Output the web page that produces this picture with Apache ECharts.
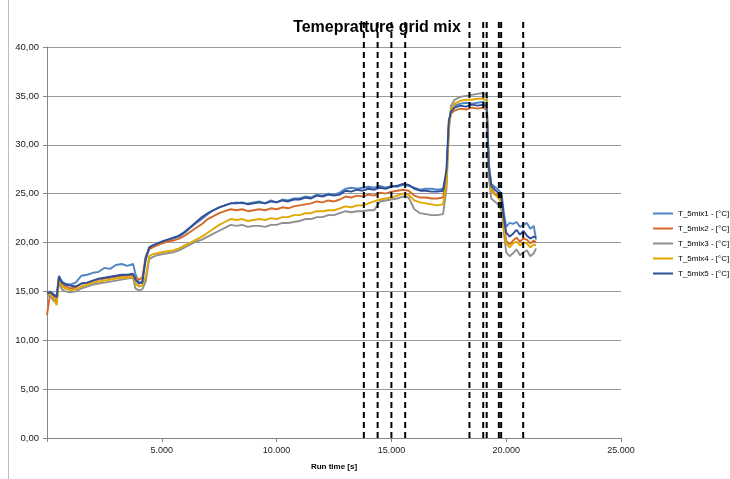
<!DOCTYPE html>
<html><head><meta charset="utf-8">
<script src="https://cdn.jsdelivr.net/npm/echarts@6/dist/echarts.min.js"></script>
<style>html,body{margin:0;padding:0;background:#fff}#c{width:730px;height:479px}</style>
</head><body><div id="c"></div>
<script>
const times = [
  0,150,300,420,520,650,800,1000,1250,1500,
  1750,2000,2250,2500,2750,3000,3250,3500,3750,3850,
  4000,4150,4300,4450,4600,4800,5000,5250,5500,5750,
  6000,6250,6500,6750,7000,7250,7500,7750,8000,8250,
  8500,8750,9000,9250,9500,9750,10000,10250,10500,10750,
  11000,11250,11500,11750,12000,12250,12500,12750,13000,13250,
  13500,13750,14000,14250,14500,14750,15000,15250,15500,15750,
  16000,16250,16500,16750,17000,17250,17400,17500,17600,17750,
  18000,18250,18500,18750,19000,19150,19250,19350,19500,19650,
  19800,19900,20000,20150,20300,20450,20600,20750,20900,21050,
  21200,21300];
const mix1 = [
  14.9,15.0,14.7,14.5,16.6,16.0,15.8,15.7,15.9,16.6,
  16.7,16.9,17.0,17.4,17.3,17.7,17.8,17.6,17.8,16.8,
  15.9,16.0,18.2,19.4,19.6,19.8,20.0,20.2,20.4,20.6,
  21.0,21.5,22.0,22.4,22.9,23.3,23.6,23.8,24.0,24.1,
  24.0,24.0,24.1,24.2,24.0,24.3,24.1,24.4,24.3,24.5,
  24.5,24.7,24.6,24.9,24.8,25.0,24.9,25.1,25.5,25.6,
  25.5,25.6,25.7,25.6,25.8,25.6,25.8,25.7,25.9,25.8,
  25.6,25.4,25.5,25.5,25.4,25.5,27.0,32.0,33.6,34.0,
  34.2,34.3,34.2,34.3,34.4,34.1,28.0,26.0,25.7,25.4,
  25.0,23.0,21.6,22.0,21.9,22.1,21.6,21.8,22.0,21.4,
  21.7,20.3];
const mix2 = [
  12.6,15.0,14.4,13.8,16.3,15.8,15.5,15.3,15.4,15.8,
  15.9,16.1,16.2,16.3,16.4,16.5,16.6,16.6,16.7,16.4,
  16.2,16.4,18.6,19.3,19.5,19.7,19.9,20.1,20.2,20.4,
  20.7,21.1,21.5,21.9,22.4,22.7,23.0,23.2,23.4,23.3,
  23.4,23.2,23.3,23.4,23.3,23.5,23.4,23.6,23.5,23.7,
  23.8,23.9,24.0,24.2,24.1,24.3,24.2,24.4,24.7,24.6,
  24.8,24.7,24.9,24.8,25.1,25.0,25.2,25.3,25.4,25.3,
  24.8,24.6,24.6,24.5,24.5,24.6,27.0,32.0,33.2,33.5,
  33.7,33.6,33.8,33.7,33.8,33.6,27.0,25.5,25.0,24.8,
  24.3,22.0,20.2,19.8,20.2,20.5,20.1,20.4,20.3,19.9,
  20.2,20.0];
const mix3 = [
  14.6,14.5,14.0,13.9,16.0,15.2,15.0,14.9,15.0,15.3,
  15.5,15.7,15.8,15.9,16.0,16.1,16.2,16.3,16.4,15.3,
  15.1,15.2,16.0,18.3,18.5,18.7,18.8,18.9,19.0,19.2,
  19.5,19.8,20.1,20.3,20.6,20.9,21.2,21.5,21.8,21.7,
  21.8,21.6,21.7,21.7,21.6,21.8,21.8,22.0,22.0,22.1,
  22.2,22.4,22.4,22.6,22.6,22.8,22.8,23.0,23.2,23.1,
  23.2,23.2,23.3,23.3,24.2,24.3,24.4,24.5,24.7,24.6,
  23.4,23.0,22.9,22.8,22.8,22.9,25.5,31.5,34.0,34.6,
  34.9,35.0,35.1,35.2,35.3,35.0,26.5,24.5,24.2,23.9,
  23.3,21.0,19.0,18.6,18.9,19.3,18.7,19.0,19.2,18.6,
  18.9,19.4];
const mix4 = [
  14.8,14.7,14.2,13.6,16.2,15.5,15.3,15.1,15.2,15.5,
  15.7,15.9,16.0,16.1,16.2,16.3,16.4,16.4,16.5,15.8,
  15.5,15.6,16.5,18.6,18.8,18.9,19.0,19.1,19.2,19.4,
  19.7,20.0,20.3,20.6,21.0,21.4,21.8,22.1,22.4,22.3,
  22.4,22.2,22.3,22.4,22.3,22.5,22.4,22.6,22.6,22.8,
  22.8,23.0,23.0,23.2,23.2,23.3,23.3,23.5,23.7,23.6,
  23.8,23.8,24.0,24.2,24.4,24.5,24.6,24.8,25.0,24.9,
  24.3,24.1,24.0,23.9,23.8,23.9,26.0,31.5,33.6,34.2,
  34.5,34.6,34.6,34.7,34.7,34.5,27.5,25.3,24.9,24.6,
  24.0,21.5,19.9,19.5,19.9,20.1,19.7,20.0,19.9,19.5,
  19.8,19.7];
const mix5 = [
  14.8,14.9,14.6,14.4,16.5,15.9,15.7,15.6,15.5,15.8,
  15.9,16.1,16.3,16.4,16.5,16.6,16.7,16.7,16.8,16.2,
  15.8,15.9,18.4,19.5,19.7,19.9,20.1,20.3,20.5,20.7,
  21.1,21.6,22.1,22.6,23.0,23.3,23.6,23.8,24.0,24.0,
  24.1,23.9,24.0,24.1,24.0,24.2,24.1,24.3,24.2,24.4,
  24.4,24.6,24.5,24.8,24.7,24.9,24.8,24.9,25.3,25.2,
  25.4,25.3,25.5,25.4,25.6,25.5,25.7,25.8,26.0,25.9,
  25.5,25.3,25.3,25.2,25.2,25.3,27.5,32.5,33.4,33.8,
  34.0,33.9,34.1,34.0,34.1,33.9,27.5,25.8,25.4,25.1,
  24.6,22.5,21.0,20.6,20.9,21.3,20.8,21.2,20.7,20.4,
  20.6,20.5];
const seriesNames = ['T_5mix1 - [°C]','T_5mix2 - [°C]','T_5mix3 - [°C]','T_5mix4 - [°C]','T_5mix5 - [°C]'];
const seriesColors = ['#4f86c2','#d4692a','#909090','#e0a800','#2f4f99'];
const markerTimes = [13800,14400,15000,15600,18400,19000,19150,19680,19780,20740];
const markerBottom = 0;
const markerTop = 42.8;

const FONT = 'Liberation Sans';
const allValues = [mix1, mix2, mix3, mix4, mix5];
const series = allValues.map((vals, i) => ({
  name: seriesNames[i], type: 'line', showSymbol: false, symbol: 'none',
  data: times.map((t, k) => [t, vals[k]]),
  lineStyle: { width: 1.9, color: seriesColors[i] },
  itemStyle: { color: seriesColors[i] },
  animation: false, z: 2 + i
}));
markerTimes.forEach(t => series.push({
  type: 'line', symbol: 'none', clip: false, silent: true, animation: false,
  data: [[t, markerBottom], [t, markerTop]],
  lineStyle: { color: '#000', width: 2, type: [6, 4] }, z: 10
}));

const chart = echarts.init(document.getElementById('c'), null, { renderer: 'canvas' });
chart.setOption({
  backgroundColor: '#fff',
  animation: false,
  title: {
    text: 'Temepratture grid mix', left: 372, top: 15, textAlign: 'center',
    textStyle: { fontFamily: FONT, fontSize: 16, fontWeight: 'bold', color: '#000' }
  },
  legend: {
    data: seriesNames, orient: 'vertical', left: 648, top: 203,
    icon: 'rect', itemWidth: 20, itemHeight: 2, itemGap: 4,
    textStyle: { fontFamily: FONT, fontSize: 8, color: '#000', lineHeight: 11 }
  },
  grid: { left: 47, right: 109, top: 47, bottom: 41 },
  xAxis: {
    type: 'value', min: 0, max: 25000, interval: 5000,
    name: 'Run time [s]', nameLocation: 'middle', nameGap: 25,
    nameTextStyle: { fontFamily: FONT, fontSize: 8, fontWeight: 'bold', color: '#000' },
    axisLine: { show: true, lineStyle: { color: '#868686', width: 1 } },
    axisTick: { show: true, length: 4, lineStyle: { color: '#868686' } },
    splitLine: { show: false },
    axisLabel: {
      margin: 8, fontFamily: FONT, fontSize: 9, color: '#222',
      formatter: v => v === 0 ? '' : (v / 1000) + '.000'
    }
  },
  yAxis: {
    type: 'value', min: 0, max: 40, interval: 5,
    axisLine: { show: true, lineStyle: { color: '#868686', width: 1 } },
    axisTick: { show: true, length: 4, lineStyle: { color: '#868686' } },
    splitLine: { show: true, lineStyle: { color: '#9a9a9a', width: 1 } },
    axisLabel: {
      margin: 8, fontFamily: FONT, fontSize: 9.5, color: '#222',
      formatter: v => v.toFixed(2).replace('.', ',')
    }
  },
  graphic: [{
    type: 'line', shape: { x1: 8.5, y1: 0, x2: 8.5, y2: 479 },
    style: { stroke: '#bdbdbd', lineWidth: 1 }, silent: true
  }],
  series: series
});
</script></body></html>
